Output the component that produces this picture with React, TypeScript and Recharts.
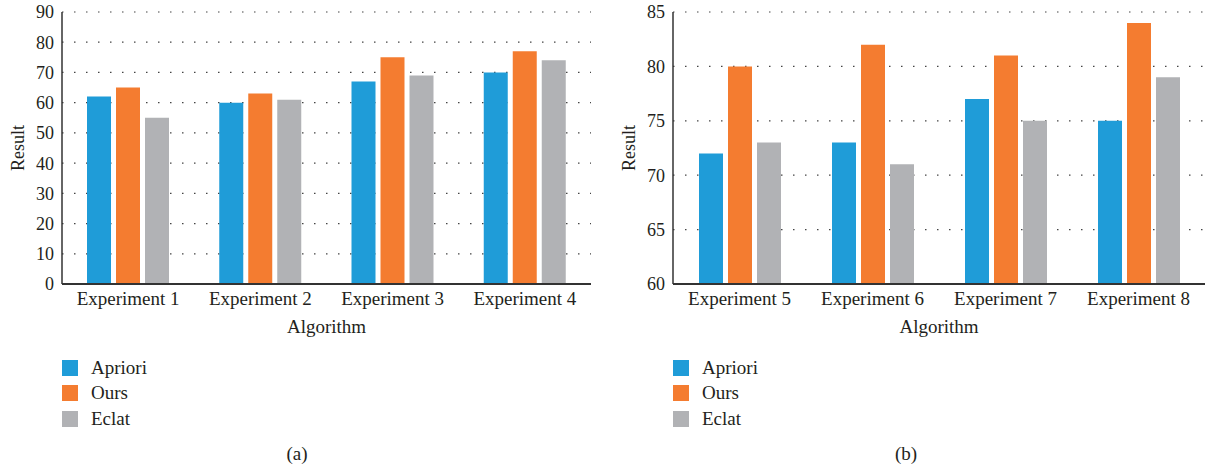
import React from 'react';
import { BarChart, Bar, XAxis, YAxis, CartesianGrid, Legend, Label } from 'recharts';

const categoriesA = ['Experiment 1', 'Experiment 2', 'Experiment 3', 'Experiment 4'];
const aprioriA = [62, 60, 67, 70];
const oursA = [65, 63, 75, 77];
const eclatA = [55, 61, 69, 74];
const ticksA = [0, 10, 20, 30, 40, 50, 60, 70, 80, 90];

const categoriesB = ['Experiment 5', 'Experiment 6', 'Experiment 7', 'Experiment 8'];
const aprioriB = [72, 73, 77, 75];
const oursB = [80, 82, 81, 84];
const eclatB = [73, 71, 75, 79];
const ticksB = [60, 65, 70, 75, 80, 85];

const seriesNames = ['Apriori', 'Ours', 'Eclat'];
const seriesColors = ['#1f9cd8', '#f47c30', '#b1b2b5'];

const FONT = '"Liberation Serif", "Times New Roman", serif';
const INK = '#231f20';

const buildRows = (cats: string[], a: number[], o: number[], e: number[]) =>
  cats.map((name, i) => ({ name, Apriori: a[i], Ours: o[i], Eclat: e[i] }));

const YTitle = (props: any) => {
  const vb = props.viewBox;
  const cx = vb.x + 6;
  const cy = vb.y + vb.height / 2;
  return (
    <text
      x={cx}
      y={cy}
      transform={`rotate(-90 ${cx} ${cy})`}
      textAnchor="middle"
      dominantBaseline="central"
      fill={INK}
      style={{ fontSize: 18, fontFamily: FONT }}
    >
      Result
    </text>
  );
};

const LegendList = (props: any) => {
  const items = [...(props.payload || [])].sort(
    (p: any, q: any) => seriesNames.indexOf(p.value) - seriesNames.indexOf(q.value)
  );
  return (
    <div style={{ fontFamily: FONT, fontSize: 19, color: INK }}>
      {items.map((entry: any) => (
        <div key={entry.value} style={{ display: 'flex', alignItems: 'center', height: 25.5 }}>
          <span
            style={{ width: 16, height: 16, background: entry.color, marginRight: 13, display: 'inline-block' }}
          />
          <span>{entry.value}</span>
        </div>
      ))}
    </div>
  );
};

interface PanelProps {
  rows: any[];
  ticks: number[];
  left: number;
  width: number;
  rightMargin: number;
  caption: string;
}

const Panel: React.FC<PanelProps> = ({ rows, ticks, left, width, rightMargin, caption }) => {
  const domain = [ticks[0], ticks[ticks.length - 1]];
  const border = { stroke: '#333333', strokeWidth: 1.5 };
  return (
    <div style={{ position: 'absolute', left, top: 0, width, height: 470, fontFamily: FONT }}>
      <BarChart
        width={width}
        height={470}
        data={rows}
        margin={{ top: 12, right: rightMargin, left: 12, bottom: 130 }}
        barSize={24}
        barGap={5}
        style={{ fontFamily: FONT }}
      >
        <CartesianGrid
          vertical={false}
          stroke="#444444"
          strokeWidth={1.2}
          strokeDasharray="1.5 10.5"
        />
        <XAxis
          dataKey="name"
          height={56}
          tickLine={false}
          axisLine={{ stroke: '#333333', strokeWidth: 2 }}
          tick={{ fill: INK, fontSize: 19 }}
          interval={0}
        >
          <Label
            value="Algorithm"
            position="insideBottom"
            offset={7}
            style={{ fill: INK, fontSize: 19 }}
          />
        </XAxis>
        <XAxis
          xAxisId="top"
          orientation="top"
          dataKey="name"
          height={0}
          tick={false}
          tickLine={false}
          axisLine={border}
        />
        <YAxis
          width={50}
          domain={domain}
          ticks={ticks}
          interval={0}
          tickLine={false}
          axisLine={border}
          tick={{ fill: INK, fontSize: 18 }}
        >
          <Label content={<YTitle />} />
        </YAxis>
        <YAxis
          yAxisId="right"
          orientation="right"
          width={0}
          domain={domain}
          tick={false}
          tickLine={false}
          axisLine={border}
        />
        <Legend
          layout="vertical"
          align="center"
          verticalAlign="middle"
          wrapperStyle={{ top: 355, left: 62, width: 'auto' }}
          content={<LegendList />}
        />
        {seriesNames.map((s, i) => (
          <Bar key={s} dataKey={s} fill={seriesColors[i]} isAnimationActive={false} />
        ))}
      </BarChart>
      <div
        style={{
          position: 'absolute',
          top: 443,
          left: 0,
          width: width - 6,
          textAlign: 'center',
          fontSize: 19,
          color: INK,
        }}
      >
        {caption}
      </div>
    </div>
  );
};

export default function App() {
  const rowsA = buildRows(categoriesA, aprioriA, oursA, eclatA);
  const rowsB = buildRows(categoriesB, aprioriB, oursB, eclatB);
  return (
    <div
      style={{
        position: 'absolute',
        left: 0,
        top: 0,
        width: 1207,
        height: 470,
        background: '#ffffff',
        fontFamily: FONT,
      }}
    >
      <Panel rows={rowsA} ticks={ticksA} left={0} width={600} rightMargin={9} caption="(a)" />
      <Panel rows={rowsB} ticks={ticksB} left={611} width={596} rightMargin={2} caption="(b)" />
    </div>
  );
}
